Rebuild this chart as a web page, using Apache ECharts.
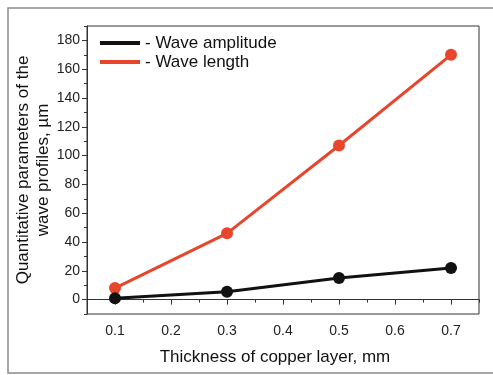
<!DOCTYPE html>
<html>
<head>
<meta charset="utf-8">
<script src="https://cdn.jsdelivr.net/npm/echarts@6/dist/echarts.min.js"></script>
<style>
  html, body { margin: 0; padding: 0; background: #fff; }
  #chart { width: 493px; height: 375px; }
</style>
</head>
<body>
<div id="chart"></div>
<script>
const thickness = [0.1, 0.3, 0.5, 0.7];
const waveAmplitude = [1, 5.5, 15, 22];
const waveLength = [8, 46, 107, 170];
const xTicks = [0.1, 0.2, 0.3, 0.4, 0.5, 0.6, 0.7];
const yTicks = [0, 20, 40, 60, 80, 100, 120, 140, 160, 180];

const font = 'Liberation Sans, Arial, sans-serif';
const axisColor = '#333';

const chart = echarts.init(document.getElementById('chart'));

chart.setOption({
  backgroundColor: '#fff',
  animation: false,
  textStyle: { fontFamily: font },
  graphic: [
    {
      type: 'rect',
      shape: { x: 8, y: 8, width: 500, height: 365 },
      style: { fill: 'none', stroke: '#8a8a8a', lineWidth: 1.5 },
      silent: true
    }
  ],
  grid: {
    left: 87, right: 14, top: 26, bottom: 61,
    outerBoundsMode: 'none',
    containLabel: false,
    show: true, borderColor: axisColor, borderWidth: 1
  },
  legend: {
    orient: 'vertical',
    left: 95,
    top: 29,
    itemWidth: 40,
    itemHeight: 4,
    itemGap: 1,
    icon: 'rect',
    formatter: '- {name}',
    textStyle: { fontFamily: font, fontSize: 17, color: '#111', lineHeight: 18 },
    data: ['Wave amplitude', 'Wave length']
  },
  xAxis: [
    {
      type: 'value',
      min: 0.05, max: 0.75, interval: 0.05,
      name: 'Thickness of copper layer, mm',
      nameLocation: 'middle',
      nameGap: 35,
      nameMoveOverlap: false,
      nameTextStyle: { fontFamily: font, fontSize: 17, color: '#111', padding: [0, 16, 0, 0] },
      axisLine: { show: true, lineStyle: { color: axisColor, width: 1 } },
      axisTick: { show: true, length: 5, customValues: xTicks, lineStyle: { color: axisColor } },
      axisLabel: { customValues: xTicks, fontSize: 14, color: '#222', margin: 10, fontFamily: font },
      splitLine: { show: false }
    },
    {
      type: 'value',
      position: 'bottom',
      min: 0.05, max: 0.75, interval: 0.05,
      axisLine: { show: false },
      axisTick: { show: true, length: 3, lineStyle: { color: axisColor } },
      axisLabel: { show: false },
      splitLine: { show: false }
    }
  ],
  yAxis: [
    {
      type: 'value',
      min: -10, max: 190, interval: 10,
      name: 'Quantitative parameters of the\nwave profiles, µm',
      nameLocation: 'middle',
      nameGap: 34,
      nameMoveOverlap: false,
      nameTextStyle: { fontFamily: font, fontSize: 17, color: '#111', lineHeight: 20 },
      axisLine: { show: true, lineStyle: { color: axisColor, width: 1 } },
      axisTick: { show: true, length: 5, customValues: yTicks, lineStyle: { color: axisColor } },
      axisLabel: { customValues: yTicks, fontSize: 14, color: '#222', margin: 7, fontFamily: font },
      splitLine: { show: false }
    },
    {
      type: 'value',
      position: 'left',
      min: -10, max: 190, interval: 10,
      axisLine: { show: false },
      axisTick: { show: true, length: 3, lineStyle: { color: axisColor } },
      axisLabel: { show: false },
      splitLine: { show: false }
    }
  ],
  series: [
    {
      name: 'Wave amplitude',
      type: 'line',
      data: thickness.map((x, i) => [x, waveAmplitude[i]]),
      symbol: 'circle',
      symbolSize: 12,
      color: '#111',
      lineStyle: { width: 3, color: '#111' },
      itemStyle: { color: '#111' },
      z: 3
    },
    {
      name: 'Wave length',
      type: 'line',
      data: thickness.map((x, i) => [x, waveLength[i]]),
      symbol: 'circle',
      symbolSize: 12,
      color: '#e8452d',
      lineStyle: { width: 3, color: '#e8452d' },
      itemStyle: { color: '#e8452d' },
      z: 2
    }
  ]
});
</script>
</body>
</html>
